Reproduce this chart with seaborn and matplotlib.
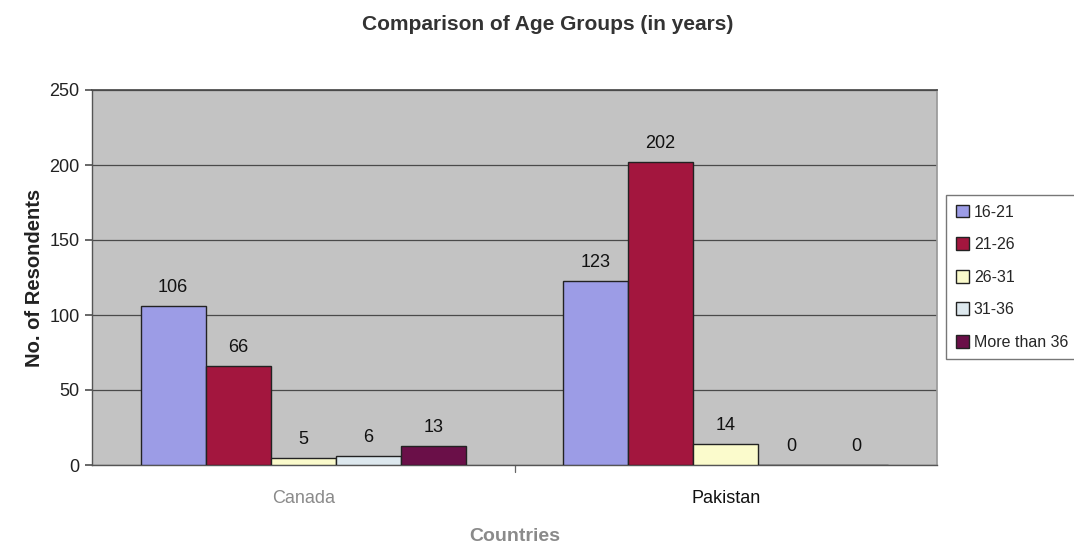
import matplotlib
matplotlib.use("Agg")
import matplotlib.pyplot as plt
import seaborn as sns
import pandas as pd

countries = ["Canada", "Pakistan"]
age_groups = ["16-21", "21-26", "26-31", "31-36", "More than 36"]
canada_counts = [106, 66, 5, 6, 13]
pakistan_counts = [123, 202, 14, 0, 0]
group_colors = ["#9c9ce6", "#a3163e", "#fbfbcc", "#dde8ee", "#6a0f48"]
y_ticks = [0, 50, 100, 150, 200, 250]

rows = []
for country, counts in zip(countries, [canada_counts, pakistan_counts]):
    for grp, val in zip(age_groups, counts):
        rows.append({"Country": country, "Age": grp, "Count": val})
df = pd.DataFrame(rows)

sns.set_theme(style="white")
plt.rcParams["font.family"] = ["Liberation Sans", "DejaVu Sans"]

fig = plt.figure(figsize=(10.74, 5.46), dpi=100)
ax = fig.add_axes([92 / 1074, 1 - 465 / 546, 845 / 1074, 375 / 546])
ax.set_facecolor("#c3c3c3")

sns.barplot(data=df, x="Country", y="Count", hue="Age", hue_order=age_groups,
            palette=group_colors, width=0.77, edgecolor="#222222", linewidth=1.0,
            saturation=1, errorbar=None, ax=ax, legend=True, zorder=3)

for container in ax.containers:
    ax.bar_label(container, padding=7, fontsize=13, color="#111111")

ax.set_ylim(0, 250)
ax.set_yticks(y_ticks)
ax.set_yticklabels([str(t) for t in y_ticks], fontsize=13, color="#222222")
ax.yaxis.grid(True, color="#4a4a4a", linewidth=0.9, zorder=0)
ax.set_axisbelow(True)
ax.tick_params(axis="y", length=5, color="#555555", left=True, pad=4)
ax.tick_params(axis="x", length=0, pad=18)
ax.set_xlim(-0.5, 1.5)
ax.set_xticks([0, 1])
ax.set_xticklabels(countries, fontsize=13)
ax.get_xticklabels()[0].set_color("#8a8a8a")
ax.get_xticklabels()[1].set_color("#111111")
# divider tick between the two country groups
ax.plot([0.5, 0.5], [0, -0.018], transform=ax.get_xaxis_transform(),
        color="#666666", linewidth=0.9, clip_on=False)

for side in ["left", "bottom"]:
    ax.spines[side].set_color("#555555")
    ax.spines[side].set_linewidth(1.0)
ax.spines["top"].set_color("#4a4a4a")
ax.spines["right"].set_color("#9a9a9a")

ax.set_xlabel("Countries", fontsize=14, fontweight="bold", color="#8a8a8a", labelpad=15)
ax.set_ylabel("No. of Resondents", fontsize=14.5, fontweight="bold", color="#222222", labelpad=4)

fig.text(548 / 1074, 1 - 25 / 546, "Comparison of Age Groups (in years)",
         ha="center", va="center", fontsize=15, fontweight="bold", color="#333333")

handles, labels = ax.get_legend_handles_labels()
ax.get_legend().remove()
leg = fig.legend(handles, labels, loc="upper left",
                 bbox_to_anchor=(946 / 1074, 1 - 195 / 546), frameon=True,
                 fontsize=11.5, handlelength=0.85, handleheight=0.85,
                 handletextpad=0.3, labelspacing=1.1, borderpad=0.6,
                 fancybox=False, borderaxespad=0)
leg.get_frame().set_edgecolor("#555555")
leg.get_frame().set_linewidth(1.0)

fig.savefig("out.png", dpi=100, facecolor="white")
